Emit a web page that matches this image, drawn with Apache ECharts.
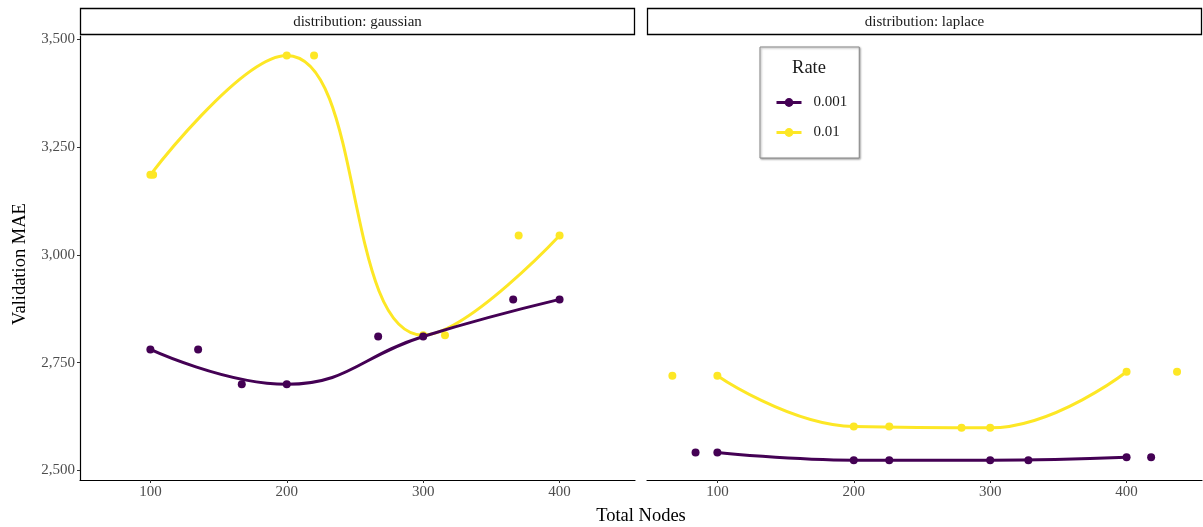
<!DOCTYPE html>
<html>
<head>
<meta charset="utf-8">
<script src="https://cdn.jsdelivr.net/npm/echarts@6/dist/echarts.min.js"></script>
<style>html,body{margin:0;padding:0;background:#fff}#c{width:1203px;height:527px}</style>
</head>
<body>
<div id="c"></div>
<script>
// ---- data ----
const facets = ['distribution: gaussian', 'distribution: laplace'];
const rates = ['0.001', '0.01'];
const nodes = [100, 200, 300, 400];
const gauss001 = [2781, 2700, 2811, 2897];
const gauss01 = [3186, 3463, 2814, 3045];
const lap001 = [2542, 2524, 2524, 2531];
const lap01 = [2720, 2602, 2599, 2729];
// jittered x positions of the duplicate points
const gaussJit001 = [135, 167, 267, 366];
const gaussJit01 = [102, 220, 316, 370];
const lapJit001 = [84, 226, 328, 418];
const lapJit01 = [67, 226, 279, 437];
const xTicks = [100, 200, 300, 400];
const yTicks = [2500, 2750, 3000, 3250, 3500];

const colors = {'0.001': '#440154', '0.01': '#FDE725'};
const FONT = 'Liberation Serif';
const zip = (xs, ys) => xs.map((x, i) => [x, ys[i]]);

const panels = [
  {g: 0, vals: {'0.001': gauss001, '0.01': gauss01}, jit: {'0.001': gaussJit001, '0.01': gaussJit01}},
  {g: 1, vals: {'0.001': lap001, '0.01': lap01}, jit: {'0.001': lapJit001, '0.01': lapJit01}}
];

const series = [];
panels.forEach(p => {
  rates.forEach(r => {
    series.push({
      type: 'line', name: r, xAxisIndex: p.g, yAxisIndex: p.g,
      data: zip(nodes, p.vals[r]), smooth: 0.45,
      symbol: 'circle', symbolSize: 8, showSymbol: true,
      itemStyle: {color: colors[r]}, lineStyle: {color: colors[r], width: 3},
      z: r === '0.001' ? 3 : 2, silent: true, animation: false
    });
    series.push({
      type: 'scatter', name: r, xAxisIndex: p.g, yAxisIndex: p.g,
      data: zip(p.jit[r], p.vals[r]), symbolSize: 8,
      itemStyle: {color: colors[r], opacity: 1},
      z: r === '0.001' ? 3 : 2, silent: true, animation: false
    });
  });
});

const XMIN = 48.4, XMAX = 455.3, YMIN = 2478, YMAX = 3508;
const gridL = [80, 647], gridW = 555, gridTop = 36, gridH = 444;

const xAxes = [0, 1].map(i => ({
  type: 'value', gridIndex: i, min: XMIN, max: XMAX,
  axisLine: {show: true, lineStyle: {color: '#000', width: 1.2}},
  axisTick: {show: true, length: 3, lineStyle: {color: '#333', width: 1}, customValues: xTicks},
  axisLabel: {show: true, customValues: xTicks, color: '#4D4D4D', fontFamily: FONT, fontSize: 15, margin: 5},
  splitLine: {show: false}
}));
const yAxes = [0, 1].map(i => ({
  type: 'value', gridIndex: i, min: YMIN, max: YMAX,
  axisLine: {show: i === 0, lineStyle: {color: '#000', width: 1.2}},
  axisTick: {show: i === 0, length: 3, lineStyle: {color: '#333', width: 1}, customValues: yTicks},
  axisLabel: {show: i === 0, customValues: yTicks, color: '#4D4D4D', fontFamily: FONT, fontSize: 15, margin: 5,
    formatter: v => v.toLocaleString('en-US')},
  splitLine: {show: false}
}));

const graphics = [];
facets.forEach((f, i) => {
  graphics.push({type: 'rect', shape: {x: gridL[i] + 0.5, y: 8.5, width: gridW - 1, height: 26},
    style: {fill: '#fff', stroke: '#000', lineWidth: 1.3}, z: 10});
  graphics.push({type: 'text', x: gridL[i] + gridW / 2, y: 22,
    style: {text: f, fill: '#1A1A1A', font: '15px "' + FONT + '"', align: 'center', verticalAlign: 'middle'}, z: 11});
});
graphics.push({type: 'text', x: 641, y: 516,
  style: {text: 'Total Nodes', fill: '#000', font: '18.5px "' + FONT + '"', align: 'center', verticalAlign: 'middle'}});
graphics.push({type: 'text', x: 20, y: 264, rotation: Math.PI / 2,
  style: {text: 'Validation MAE', fill: '#000', font: '18.5px "' + FONT + '"', align: 'center', verticalAlign: 'middle'}});
graphics.push({type: 'text', x: 809, y: 68,
  style: {text: 'Rate', fill: '#1A1A1A', font: '18.5px "' + FONT + '"', align: 'center', verticalAlign: 'middle'}, z: 20});

const chart = echarts.init(document.getElementById('c'), null, {renderer: 'canvas'});
chart.setOption({
  animation: false,
  backgroundColor: '#fff',
  grid: [0, 1].map(i => ({left: gridL[i], top: gridTop, width: gridW, height: gridH, containLabel: false})),
  xAxis: xAxes,
  yAxis: yAxes,
  legend: {
    data: rates, orient: 'vertical', left: 760, top: 47,
    padding: [48, 12, 18, 15], itemGap: 15, itemWidth: 25, itemHeight: 11,
    textStyle: {fontFamily: FONT, fontSize: 15, color: '#1A1A1A', padding: [0, 0, 0, 7]},
    lineStyle: {width: 3},
    borderColor: '#888', borderWidth: 1, backgroundColor: '#fff',
    shadowBlur: 2, shadowColor: 'rgba(0,0,0,0.35)', shadowOffsetX: 1, shadowOffsetY: 1,
    selectedMode: false
  },
  graphic: graphics,
  series: series
});
</script>
</body>
</html>
